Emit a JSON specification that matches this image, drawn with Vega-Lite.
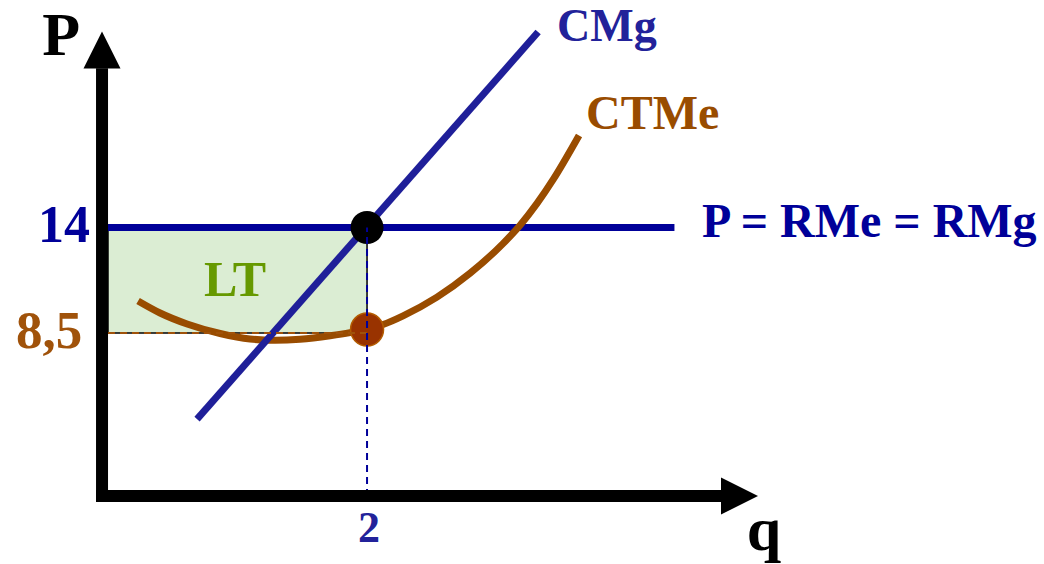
{
  "$schema": "https://vega.github.io/schema/vega-lite/v6.json",
  "width": 1044,
  "height": 564,
  "padding": 0,
  "autosize": {"type": "none"},
  "background": "white",
  "config": {"view": {"stroke": null}},
  "datasets": {
    "ctme": [
      {"q": 0.272, "P": 10.167},
      {"q": 0.438, "P": 9.541},
      {"q": 0.642, "P": 8.968},
      {"q": 0.891, "P": 8.472},
      {"q": 1.117, "P": 8.186},
      {"q": 1.306, "P": 8.118},
      {"q": 1.494, "P": 8.17},
      {"q": 1.721, "P": 8.352},
      {"q": 1.872, "P": 8.519},
      {"q": 2.0, "P": 8.707},
      {"q": 2.121, "P": 8.942},
      {"q": 2.272, "P": 9.395},
      {"q": 2.528, "P": 10.37},
      {"q": 2.777, "P": 11.611},
      {"q": 3.026, "P": 13.16},
      {"q": 3.155, "P": 14.119},
      {"q": 3.283, "P": 15.255},
      {"q": 3.404, "P": 16.491},
      {"q": 3.6, "P": 18.796}
    ]
  },
  "encoding": {
    "x": {"field": "q", "type": "quantitative", "scale": {"domain": [-0.77, 7.109], "nice": false, "zero": false}, "axis": null},
    "y": {"field": "P", "type": "quantitative", "scale": {"domain": [-3.545, 25.86], "nice": false, "zero": false}, "axis": null}
  },
  "layer": [
    {
      "data": {"values": [{"q": 0.045, "q2": 2.0, "P": 8.5, "P2": 14}]},
      "mark": {"type": "rect", "fill": "#dbedd3", "stroke": "#000000", "strokeWidth": 1.5},
      "encoding": {"x2": {"field": "q2"}, "y2": {"field": "P2"}}
    },
    {
      "data": {"values": [{"q": 0.045, "q2": 4.32, "P": 14, "P2": 14}]},
      "mark": {"type": "rule", "color": "#000099", "strokeWidth": 7, "strokeCap": "butt"},
      "encoding": {"x2": {"field": "q2"}, "y2": {"field": "P2"}}
    },
    {
      "data": {"name": "ctme"},
      "mark": {"type": "line", "color": "#994c00", "strokeWidth": 7, "strokeCap": "butt", "interpolate": "monotone"},
      "encoding": {"order": {"field": "q", "type": "quantitative"}}
    },
    {
      "data": {"values": [{"q": 0.717, "q2": 3.291, "P": 4.01, "P2": 24.19}]},
      "mark": {"type": "rule", "color": "#1f1f99", "strokeWidth": 7, "strokeCap": "butt"},
      "encoding": {"x2": {"field": "q2"}, "y2": {"field": "P2"}}
    },
    {
      "data": {"values": [{"q": 2.0, "P": 14}]},
      "mark": {"type": "point", "shape": "circle", "filled": true, "fill": "#000000", "opacity": 1, "size": 1089, "strokeWidth": 0}
    },
    {
      "data": {"values": [{"q": 2.0, "P": 8.68}]},
      "mark": {"type": "point", "shape": "circle", "filled": true, "fill": "#993300", "stroke": "#b35c00", "strokeWidth": 1.5, "opacity": 1, "size": 1089}
    },
    {
      "data": {"values": [{"q": 0.045, "q2": 2.0, "P": 8.5, "P2": 8.5}]},
      "mark": {"type": "rule", "color": "#a0520a", "strokeWidth": 2, "strokeDash": [7, 5]},
      "encoding": {"x2": {"field": "q2"}, "y2": {"field": "P2"}}
    },
    {
      "data": {"values": [{"q": 2.0, "q2": 2.0, "P": 0, "P2": 14}]},
      "mark": {"type": "rule", "color": "#000099", "strokeWidth": 2, "strokeDash": [7, 5]},
      "encoding": {"x2": {"field": "q2"}, "y2": {"field": "P2"}}
    },
    {
      "data": {"values": [{"q": 0, "q2": 0, "P": -0.31, "P2": 22.3}, {"q": -0.045, "q2": 4.68, "P": 0, "P2": 0}]},
      "mark": {"type": "rule", "color": "#000000", "strokeWidth": 12, "strokeCap": "butt"},
      "encoding": {"x2": {"field": "q2"}, "y2": {"field": "P2"}}
    },
    {
      "data": {"values": [{"q": 0, "P": 23.25}]},
      "mark": {"type": "point", "shape": "M0,-1L-1,1L1,1Z", "filled": true, "fill": "#000000", "opacity": 1, "size": 1369, "strokeWidth": 0}
    },
    {
      "data": {"values": [{"q": 4.811, "P": 0}]},
      "mark": {"type": "point", "shape": "M1,0L-1,-1L-1,1Z", "filled": true, "fill": "#000000", "opacity": 1, "size": 1369, "strokeWidth": 0}
    },
    {
      "data": {"values": [{"q": -0.309, "P": 22.99, "label": "P"}]},
      "mark": {"type": "text", "font": "Liberation Serif", "fontWeight": "bold", "fontSize": 62, "color": "#000000", "align": "center", "baseline": "alphabetic"},
      "encoding": {"text": {"field": "label"}}
    },
    {
      "data": {"values": [{"q": 4.996, "P": -2.815, "label": "q"}]},
      "mark": {"type": "text", "font": "Liberation Serif", "fontWeight": "bold", "fontSize": 62, "color": "#000000", "align": "center", "baseline": "alphabetic"},
      "encoding": {"text": {"field": "label"}}
    },
    {
      "data": {"values": [{"q": -0.09, "P": 13.24, "label": "14"}]},
      "mark": {"type": "text", "font": "Liberation Serif", "fontWeight": "bold", "fontSize": 52, "color": "#000099", "align": "right", "baseline": "alphabetic"},
      "encoding": {"text": {"field": "label"}}
    },
    {
      "data": {"values": [{"q": -0.15, "P": 7.72, "label": "8,5"}]},
      "mark": {"type": "text", "font": "Liberation Serif", "fontWeight": "bold", "fontSize": 53, "color": "#a0520a", "align": "right", "baseline": "alphabetic"},
      "encoding": {"text": {"field": "label"}}
    },
    {
      "data": {"values": [{"q": 1.004, "P": 10.43, "label": "LT"}]},
      "mark": {"type": "text", "font": "Liberation Serif", "fontWeight": "bold", "fontSize": 50, "color": "#669900", "align": "center", "baseline": "alphabetic"},
      "encoding": {"text": {"field": "label"}}
    },
    {
      "data": {"values": [{"q": 3.434, "P": 23.72, "label": "CMg"}]},
      "mark": {"type": "text", "font": "Liberation Serif", "fontWeight": "bold", "fontSize": 46, "color": "#22229a", "align": "left", "baseline": "alphabetic"},
      "encoding": {"text": {"field": "label"}}
    },
    {
      "data": {"values": [{"q": 3.653, "P": 19.13, "label": "CTMe"}]},
      "mark": {"type": "text", "font": "Liberation Serif", "fontWeight": "bold", "fontSize": 48, "color": "#994c00", "align": "left", "baseline": "alphabetic"},
      "encoding": {"text": {"field": "label"}}
    },
    {
      "data": {"values": [{"q": 4.528, "P": 13.5, "label": "P = RMe = RMg"}]},
      "mark": {"type": "text", "font": "Liberation Serif", "fontWeight": "bold", "fontSize": 48, "color": "#000099", "align": "left", "baseline": "alphabetic"},
      "encoding": {"text": {"field": "label"}}
    },
    {
      "data": {"values": [{"q": 2.015, "P": -2.4, "label": "2"}]},
      "mark": {"type": "text", "font": "Liberation Serif", "fontWeight": "bold", "fontSize": 44, "color": "#22229a", "align": "center", "baseline": "alphabetic"},
      "encoding": {"text": {"field": "label"}}
    }
  ]
}
